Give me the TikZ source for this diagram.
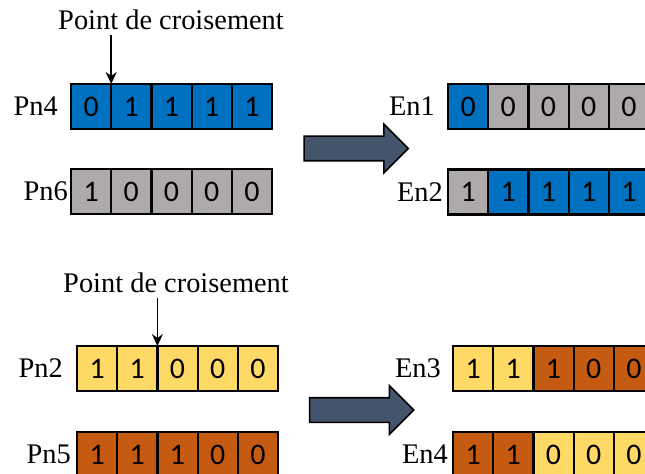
\documentclass[tikz,border=0pt]{standalone}
\usepackage{fontspec}
\setmainfont{Liberation Serif}
\newfontfamily\chiffres{Carlito}
\usetikzlibrary{shapes.arrows,positioning,arrows.meta}
\definecolor{bleu}{HTML}{0070C0}
\definecolor{gris}{HTML}{AEAAAA}
\definecolor{jaune}{HTML}{FFD966}
\definecolor{rouille}{HTML}{C55A11}
\definecolor{ardoise}{HTML}{44546A}

\begin{document}
\begin{tikzpicture}[x=1bp, y=-1bp,
        cell/.style={rectangle, minimum width=40.2bp, minimum height=45bp, inner sep=0pt, outer sep=0pt, anchor=west, font=\chiffres\fontsize{30}{36}\selectfont},
        cadre/.style={line width=2.2bp},
        lbl/.style={inner sep=0pt, font=\rmfamily\fontsize{28.5}{34}\selectfont},
        fleche/.style={-{Stealth[length=12bp,width=11bp,inset=4bp]}, line width=1.5bp},
        grosse/.style={single arrow, draw, fill=ardoise, line width=1.6bp, minimum height=104bp, single arrow head extend=12bp, inner sep=11.5bp}
    ]
        \useasboundingbox (0,0) rectangle (645,474);
        % rangees de genes
        \foreach \nom/\x/\y/\cellules in {
            pn4/71/106.5/{0/bleu,1/bleu,1/bleu,1/bleu,1/bleu},
            pn6/71/191.5/{1/gris,0/gris,0/gris,0/gris,0/gris},
            en1/448/106.5/{0/bleu,0/gris,0/gris,0/gris,0/gris},
            en2/448/192/{1/gris,1/bleu,1/bleu,1/bleu,1/bleu},
            pn2/77/368.5/{1/jaune,1/jaune,0/jaune,0/jaune,0/jaune},
            pn5/77/454.5/{1/rouille,1/rouille,1/rouille,0/rouille,0/rouille},
            en3/453/368.5/{1/jaune,1/jaune,1/rouille,0/rouille,0/rouille},
            en4/453/454.5/{1/rouille,1/rouille,0/jaune,0/jaune,0/jaune}}
        {
            \foreach \v/\c [count=\i] in \cellules
                \node[cell, fill=\c] (\nom-\i) at ({\x+40.2*(\i-1)}, \y) {\v};
            \foreach \i in {1,...,5}
                \draw[cadre] (\nom-\i.north west) rectangle (\nom-\i.south east);
        }
        % etiquettes
        \node[lbl, left=13bp of pn4-1] (lpn4) {Pn4};
        \node[lbl, left=3bp of pn6-1] (lpn6) {Pn6};
        \node[lbl, left=13bp of en1-1] (len1) {En1};
        \node[lbl, left=5bp of en2-1] (len2) {En2};
        \node[lbl, left=14bp of pn2-1] (lpn2) {Pn2};
        \node[lbl, left=6bp of pn5-1] (lpn5) {Pn5};
        \node[lbl, left=12bp of en3-1] (len3) {En3};
        \node[lbl, left=5bp of en4-1] (len4) {En4};
        % points de croisement
        \node[lbl, inner sep=5bp] (pc1) at (171,19.5) {Point de croisement};
        \node[lbl, inner sep=5bp] (pc2) at (176,282.5) {Point de croisement};
        \draw[fleche] (pc1.south -| pn4-1.north east) -- (pn4-1.north east);
        \draw[fleche] (pc2.south -| pn2-2.north east) -- (pn2-2.north east);
        % fleches de croisement
        \node[grosse] (croise1) at (350,148.5) {};
        \node[grosse] (croise2) at (355.5,410) {};
    \end{tikzpicture}
\end{document}
